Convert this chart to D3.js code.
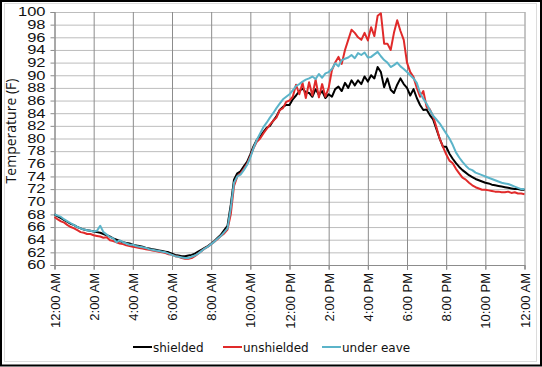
<!DOCTYPE html>
<html>
<head>
<meta charset="utf-8">
<script src="https://cdn.jsdelivr.net/npm/d3@7"></script>
<style>
  html, body { margin: 0; padding: 0; background: #fff; }
  svg { display: block; }
</style>
</head>
<body>
<svg id="chart" width="542" height="367"></svg>
<script>
// ---- data (10-minute samples from 12:00 AM to 12:00 AM next day) ----
const intervalMinutes = 10;
const seriesNames = ["shielded", "unshielded", "under eave"];
const seriesColors = ["#000000", "#e02a2a", "#5bb4c9"];
const xTickLabels = ["12:00 AM","2:00 AM","4:00 AM","6:00 AM","8:00 AM","10:00 AM","12:00 PM","2:00 PM","4:00 PM","6:00 PM","8:00 PM","10:00 PM","12:00 AM"];
const yTicks = [60,62,64,66,68,70,72,74,76,78,80,82,84,86,88,90,92,94,96,98,100];
const yTitle = "Temperature (F)";

const shielded = [
  68.0, 67.7, 67.4, 67.1, 66.8, 66.5,
  66.3, 66.0, 65.8, 65.6, 65.5, 65.4,
  65.3, 65.2, 65.1, 64.9, 64.7, 64.5,
  64.2, 64.0, 63.8, 63.6, 63.5, 63.4,
  63.2, 63.1, 63.0, 62.9, 62.7, 62.6,
  62.5, 62.4, 62.3, 62.2, 62.1, 62.0,
  61.8, 61.6, 61.5, 61.4, 61.4, 61.5,
  61.6, 61.8, 62.1, 62.4, 62.7, 63.0,
  63.4, 63.8, 64.3, 64.8, 65.5, 66.2,
  69.5, 73.5, 74.5, 74.8, 75.6, 76.3,
  77.5, 78.8, 79.8, 80.3, 81.0, 81.7,
  82.0, 82.8, 83.5, 84.5, 85.0, 85.3,
  85.3, 86.2, 86.8, 87.5, 87.9, 87.3,
  87.2, 86.6, 87.8, 86.9, 87.5, 86.4,
  87.0, 86.6, 87.8, 88.2, 87.5, 88.8,
  88.0, 89.2, 88.4, 89.2, 88.6, 89.8,
  89.0, 90.0, 89.5, 91.3, 90.5, 88.1,
  89.5, 87.7, 87.2, 88.5, 89.5, 88.6,
  88.0, 86.8, 87.8, 86.4, 85.3, 84.5,
  84.6, 83.7, 83.0, 81.5, 80.0, 78.7,
  78.7, 77.6, 76.8, 76.1, 75.5, 75.0,
  74.6, 74.2, 73.9, 73.6, 73.4, 73.2,
  73.0, 72.9, 72.7, 72.6, 72.5, 72.4,
  72.3, 72.2, 72.1, 72.0, 72.0, 71.9,
  71.9
];
const unshielded = [
  67.6, 67.2, 66.9, 66.7, 66.3, 66.0,
  65.8, 65.5, 65.2, 65.1, 64.9, 64.9,
  64.7, 64.6, 64.5, 64.3, 64.4, 63.9,
  63.8, 63.6, 63.4, 63.3, 63.1, 63.0,
  62.9, 62.8, 62.7, 62.6, 62.5, 62.4,
  62.3, 62.2, 62.1, 62.0, 61.9, 61.7,
  61.6, 61.4, 61.3, 61.1, 61.0, 61.0,
  61.1, 61.4, 61.8, 62.2, 62.6, 62.9,
  63.3, 63.7, 64.1, 64.6, 65.0, 65.6,
  68.0, 72.5, 74.0, 74.5, 75.2, 76.0,
  77.2, 78.5, 79.5, 80.0, 80.8, 81.5,
  82.2, 82.8, 83.3, 84.5, 84.8, 85.8,
  86.0, 86.6, 88.5, 87.0, 88.8, 86.4,
  88.9, 86.8, 89.3, 86.5, 88.6, 86.6,
  88.0, 90.8, 92.0, 92.9, 91.8, 94.0,
  95.6, 97.2, 96.7, 96.0, 95.6, 96.7,
  95.5, 97.6, 96.2, 99.4, 99.8, 95.0,
  95.0, 94.0, 96.7, 98.7, 97.0, 95.6,
  92.0, 90.5, 89.7, 88.0, 86.6, 87.5,
  85.0, 84.6, 83.5, 81.8, 80.0, 78.7,
  77.5, 76.5, 76.1, 75.2, 74.5, 73.8,
  73.5, 73.0, 72.6, 72.3, 72.1, 71.9,
  71.9, 71.8, 71.7, 71.6, 71.6, 71.5,
  71.5, 71.6, 71.4, 71.5, 71.3, 71.3,
  71.2
];
const underEave = [
  68.0, 67.8, 67.6, 67.2, 66.9, 66.6,
  66.3, 66.0, 65.8, 65.6, 65.5, 65.4,
  65.3, 65.4, 66.2, 65.2, 64.8, 64.4,
  64.2, 63.6, 63.9, 63.6, 63.4, 63.2,
  63.2, 63.0, 62.9, 62.8, 62.7, 62.5,
  62.4, 62.3, 62.2, 62.1, 62.0, 61.8,
  61.6, 61.4, 61.3, 61.2, 61.1, 61.1,
  61.3, 61.5, 61.8, 62.2, 62.6, 62.9,
  63.3, 63.7, 64.2, 64.6, 65.2, 65.8,
  69.0, 73.0, 74.0, 74.3, 75.0, 75.8,
  77.0, 78.5, 79.8, 80.8, 81.8, 82.5,
  83.3, 84.0, 84.8, 85.5, 86.2, 86.6,
  87.0, 87.6, 88.3, 88.6, 89.0, 89.3,
  89.5, 89.8, 89.4, 90.2, 89.6, 90.3,
  90.5, 91.0, 91.9, 91.4, 92.4, 92.6,
  92.8, 93.2, 92.7, 93.5, 93.2, 93.6,
  92.8, 92.9, 93.3, 93.7, 93.0, 92.4,
  92.0, 91.3, 91.6, 92.0, 91.4, 91.0,
  90.5, 90.0, 89.5, 88.8, 87.2, 86.3,
  85.5, 84.5, 83.6, 83.0, 82.4, 81.6,
  80.8, 80.0, 79.0, 77.8, 77.0, 76.3,
  75.7, 75.2, 75.0, 74.6, 74.4, 74.2,
  74.0, 73.8, 73.6, 73.4, 73.2, 73.0,
  72.9, 72.8, 72.6, 72.4, 72.2, 72.0,
  72.0
];
const allSeries = [shielded, unshielded, underEave];

// ---- drawing ----
const svg = d3.select("#chart");
const W = 542, H = 367;
const plot = { left: 54.5, right: 524.5, top: 12, bottom: 265 };

const x = d3.scaleLinear().domain([0, 24]).range([plot.left, plot.right]);
const y = d3.scaleLinear().domain([60, 100]).range([plot.bottom, plot.top]);

svg.append("rect").attr("x", 0).attr("y", 0).attr("width", W).attr("height", H).attr("fill", "#fff");

// horizontal gridlines
svg.append("g").attr("transform", `translate(${plot.left},0)`)
  .call(d3.axisLeft(y).tickValues(yTicks).tickSize(-(plot.right - plot.left)).tickFormat(""))
  .call(g => g.select(".domain").remove())
  .call(g => g.selectAll("line").attr("stroke", "#bdbdbd").attr("stroke-width", 1));

// vertical gridlines
const xTickHours = xTickLabels.map((_, i) => i * 2);
svg.append("g").attr("transform", `translate(0,${plot.top})`)
  .call(d3.axisBottom(x).tickValues(xTickHours).tickSize(plot.bottom - plot.top + 5).tickFormat(""))
  .call(g => g.select(".domain").remove())
  .call(g => g.selectAll("line").attr("stroke", "#8c8c8c").attr("stroke-width", 1));

// y axis ticks + labels
const yAxis = svg.append("g").attr("transform", `translate(${plot.left},0)`)
  .call(d3.axisLeft(y).tickValues(yTicks).tickSize(4).tickPadding(6).tickFormat(d3.format("d")));
yAxis.select(".domain").attr("stroke", "#8c8c8c");
yAxis.selectAll("line").attr("stroke", "#8c8c8c");
yAxis.selectAll("text")
  .attr("font-family", "'Liberation Sans', Arial, sans-serif")
  .attr("font-size", 11)
  .attr("fill", "#111")
  .each(function() {
    const t = d3.select(this);
    const tx = +t.attr("x");
    t.attr("x", null).attr("transform", `translate(${tx + 1},0) scale(1.5,1.08)`);
  });

// x axis line + labels
const xAxis = svg.append("g").attr("transform", `translate(0,${plot.bottom})`)
  .call(d3.axisBottom(x).tickValues(xTickHours).tickSize(4).tickFormat((d, i) => xTickLabels[i]));
xAxis.select(".domain").attr("stroke", "#8c8c8c");
xAxis.selectAll("line").attr("stroke", "#8c8c8c");
xAxis.selectAll("text")
  .attr("font-family", "'Liberation Sans', Arial, sans-serif")
  .attr("font-size", 13)
  .attr("fill", "#111")
  .attr("text-anchor", "end")
  .attr("transform", "rotate(-90)")
  .attr("x", -8)
  .attr("y", 0)
  .attr("dy", "0.35em");

// lines
const line = d3.line()
  .x((d, i) => x(i * intervalMinutes / 60))
  .y(d => y(d));
allSeries.forEach((s, k) => {
  svg.append("path")
    .datum(s)
    .attr("d", line)
    .attr("fill", "none")
    .attr("stroke", seriesColors[k])
    .attr("stroke-width", 2)
    .attr("stroke-linejoin", "round");
});

// y title
svg.append("text")
  .attr("transform", "translate(16,131) rotate(-90)")
  .attr("text-anchor", "middle")
  .attr("font-family", "'Open Sans', sans-serif")
  .attr("font-size", 14)
  .attr("fill", "#111")
  .text(yTitle);

// legend
const legendX = [133, 223, 322];
const legendY = 347;
const legend = svg.append("g");
seriesNames.forEach((name, k) => {
  legend.append("line")
    .attr("x1", legendX[k]).attr("x2", legendX[k] + 19)
    .attr("y1", legendY).attr("y2", legendY)
    .attr("stroke", seriesColors[k]).attr("stroke-width", 2);
  legend.append("text")
    .attr("x", legendX[k] + 20).attr("y", legendY + 4.5)
    .attr("font-family", "'DejaVu Sans', Verdana, sans-serif")
    .attr("font-size", 12)
    .attr("fill", "#111")
    .text(name);
});

// frames
svg.append("rect").attr("x", 4.5).attr("y", 3.5).attr("width", 532).attr("height", 358)
  .attr("fill", "none").attr("stroke", "#dcdcdc");
svg.append("rect").attr("x", 1).attr("y", 1).attr("width", W - 2).attr("height", H - 2.5)
  .attr("fill", "none").attr("stroke", "#000").attr("stroke-width", 2);
</script>
</body>
</html>
